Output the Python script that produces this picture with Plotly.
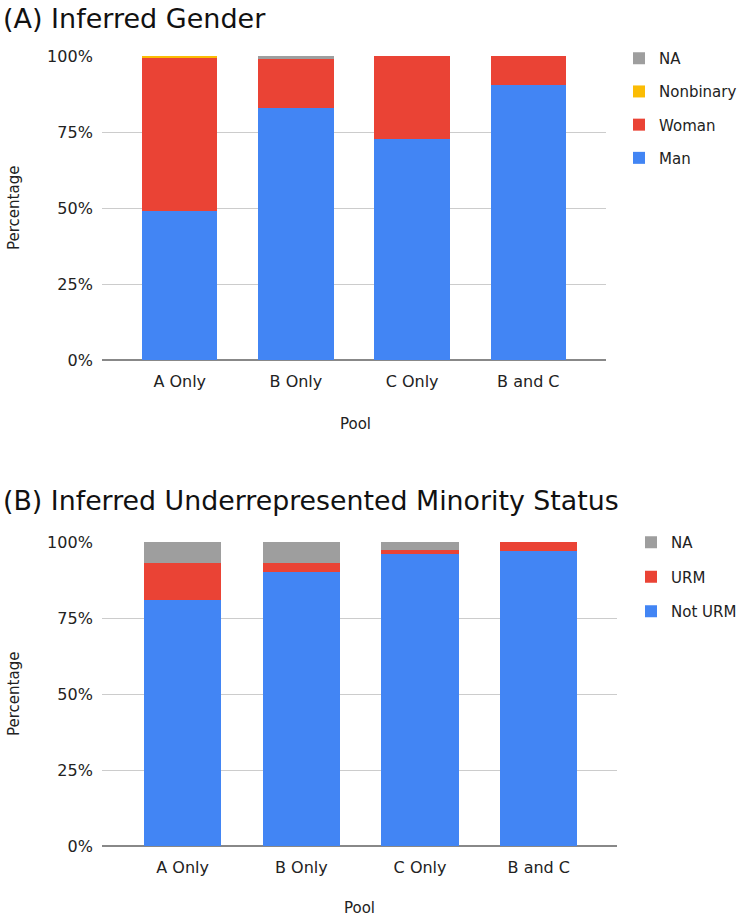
import plotly.graph_objects as go

pools = ["A Only", "B Only", "C Only", "B and C"]

# (A) Inferred Gender, percent
gender_man = [49.0, 82.9, 72.6, 90.3]
gender_woman = [50.6, 16.1, 27.4, 9.7]
gender_nonbinary = [0.4, 0.0, 0.0, 0.0]
gender_na = [0.0, 1.0, 0.0, 0.0]

# (B) Inferred URM status, percent
urm_not = [81.0, 90.1, 96.1, 97.0]
urm_yes = [12.1, 3.0, 1.3, 3.0]
urm_na = [6.9, 6.9, 2.6, 0.0]

ytick_vals = [0, 25, 50, 75, 100]
ytick_text = ["0%", "25%", "50%", "75%", "100%"]

C_BLUE = "#4285F4"
C_RED = "#EA4335"
C_YELLOW = "#FBBC04"
C_GRAY = "#9E9E9E"

W, H = 742, 920
FONT = "DejaVu Sans"

fig = go.Figure()

def add(name, vals, color, xa, ya, leg, grp, rank):
    fig.add_trace(go.Bar(
        x=pools, y=vals, name=name, marker=dict(color=color, line=dict(width=0)),
        xaxis=xa, yaxis=ya, legend=leg, legendgroup=grp, legendrank=rank,
        hovertemplate="%{x}: %{y:.1f}%<extra>" + name + "</extra>",
    ))

add("Man", gender_man, C_BLUE, "x", "y", "legend", "g1", 4)
add("Woman", gender_woman, C_RED, "x", "y", "legend", "g2", 3)
add("Nonbinary", gender_nonbinary, C_YELLOW, "x", "y", "legend", "g3", 2)
add("NA", gender_na, C_GRAY, "x", "y", "legend", "g4", 1)

add("Not URM", urm_not, C_BLUE, "x2", "y2", "legend2", "u1", 3)
add("URM", urm_yes, C_RED, "x2", "y2", "legend2", "u2", 2)
add("NA", urm_na, C_GRAY, "x2", "y2", "legend2", "u3", 1)

def px_x(p):
    return p / W

def px_y(p):
    return 1 - p / H

axis_common = dict(
    showgrid=False, showline=False, ticks="", zeroline=False,
    tickfont=dict(family=FONT, size=16, color="#222"), automargin=False,
    fixedrange=True,
)
yaxis_common = dict(
    range=[0, 100], tickvals=ytick_vals, ticktext=ytick_text,
    showgrid=True, gridcolor="#cccccc", gridwidth=1,
    zeroline=True, zerolinecolor="#888888", zerolinewidth=1.5,
    showline=False, ticks="", ticklabelstandoff=8,
    tickfont=dict(family=FONT, size=16, color="#222"), automargin=False,
    fixedrange=True,
)

legend_common = dict(
    xanchor="left", yanchor="top", traceorder="grouped",
    font=dict(family=FONT, size=15, color="#222"), bgcolor="rgba(0,0,0,0)",
)

fig.update_layout(
    width=W, height=H,
    margin=dict(l=0, r=0, t=0, b=0),
    paper_bgcolor="white", plot_bgcolor="white",
    barmode="stack", bargap=0.35,
    font=dict(family=FONT, size=15, color="#222"),
    xaxis=dict(domain=[px_x(102), px_x(607)], range=[-0.67, 3.67], anchor="y",
               ticklabelstandoff=10, **axis_common),
    yaxis=dict(domain=[px_y(360), px_y(56)], anchor="x", **yaxis_common),
    xaxis2=dict(domain=[px_x(102), px_x(618)], range=[-0.68, 3.66], anchor="y2",
                ticklabelstandoff=10, **axis_common),
    yaxis2=dict(domain=[px_y(846), px_y(542)], anchor="x2", **yaxis_common),
    legend=dict(x=px_x(620), y=px_y(42), tracegroupgap=10.7, **legend_common),
    legend2=dict(x=px_x(631), y=px_y(526), tracegroupgap=12, **legend_common),
    showlegend=True,
)

annos = [
    dict(text="(A) Inferred Gender", x=px_x(1), y=px_y(18), size=27),
    dict(text="(B) Inferred Underrepresented Minority Status", x=px_x(1), y=px_y(500), size=26.8),
]
for a in annos:
    fig.add_annotation(text=a["text"], x=a["x"], y=a["y"], xref="paper", yref="paper",
                       xanchor="left", yanchor="middle", showarrow=False,
                       font=dict(family=FONT, size=a["size"], color="#111"))

for t, x, y, ang in [("Percentage", 14, 208, -90), ("Pool", 356, 424, 0),
                     ("Percentage", 14, 694, -90), ("Pool", 360, 908, 0)]:
    fig.add_annotation(text=t, x=px_x(x), y=px_y(y), xref="paper", yref="paper",
                       xanchor="center", yanchor="middle", showarrow=False, textangle=ang,
                       font=dict(family=FONT, size=15, color="#222"))

fig.write_html(
    "out.html",
    config={"displayModeBar": False},
    post_script="document.body.style.margin='0';document.body.style.overflow='hidden';",
)
